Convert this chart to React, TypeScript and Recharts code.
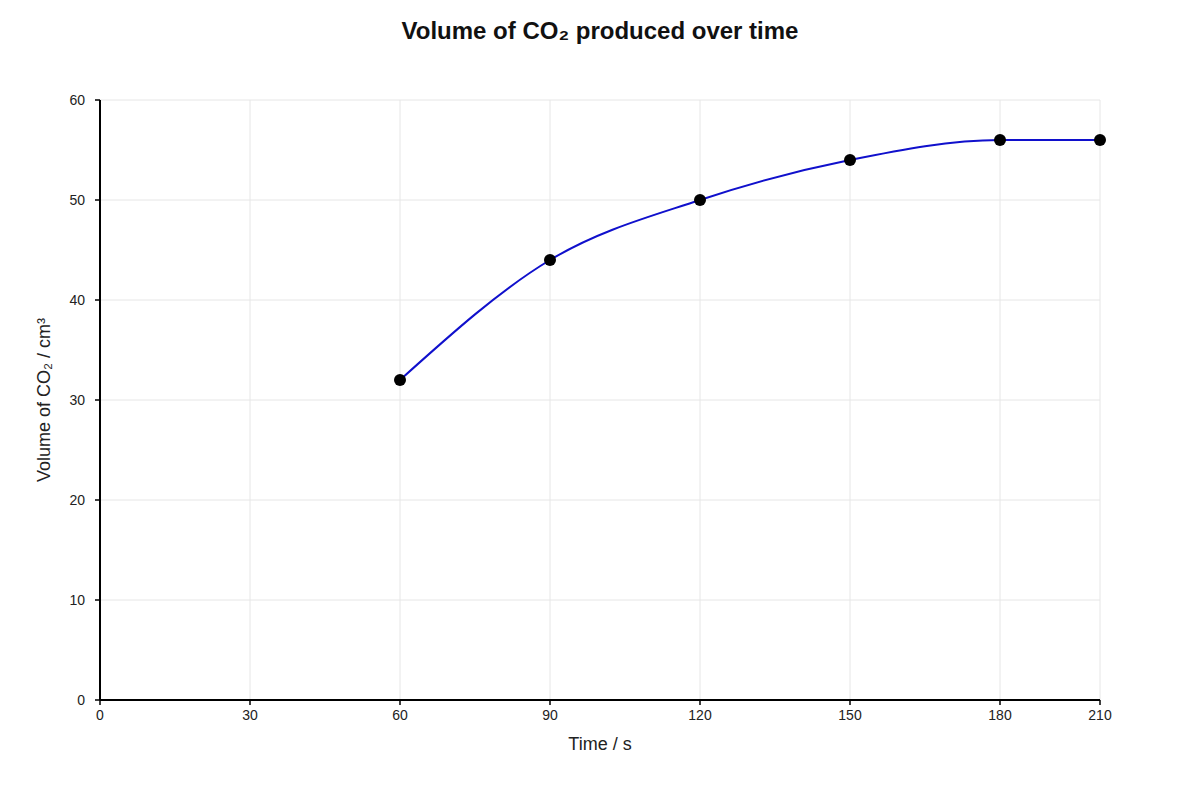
import React from 'react'
import {
  ComposedChart, Line, XAxis, YAxis, CartesianGrid,
} from 'recharts'

const times = [60, 90, 120, 150, 180, 210]
const volumes = [32, 44, 50, 54, 56, 56]
const xTicks = [0, 30, 60, 90, 120, 150, 180, 210]
const yTicks = [0, 10, 20, 30, 40, 50, 60]

const data = times.map((t, i) => ({ t, v: volumes[i] }))

const FONT = '"Liberation Sans", Arial, sans-serif'

// the source axis is evenly spaced up to 180, then squeezes the last step (180 -> 210)
// into two thirds of a regular step; mimic that with a piecewise-linear scale
const tickSlots = [0, 1, 2, 3, 4, 5, 6, 6 + 2 / 3]

function makeTimeScale(dom: number[] = [0, 210], rng: number[] = [0, 1]): any {
  let d = dom
  let r = rng
  const last = tickSlots[tickSlots.length - 1]
  const toSlot = (v: number) => {
    for (let i = 0; i < xTicks.length - 1; i++) {
      if (v <= xTicks[i + 1] || i === xTicks.length - 2) {
        const f = (v - xTicks[i]) / (xTicks[i + 1] - xTicks[i])
        return tickSlots[i] + f * (tickSlots[i + 1] - tickSlots[i])
      }
    }
    return 0
  }
  const scale: any = (v: number) => r[0] + (toSlot(v) / last) * (r[1] - r[0])
  scale.domain = (x?: number[]) => (x ? ((d = x), scale) : d)
  scale.range = (x?: number[]) => (x ? ((r = x), scale) : r)
  scale.copy = () => makeTimeScale(d, r)
  scale.ticks = () => xTicks
  scale.invert = (px: number) => {
    const s = ((px - r[0]) / (r[1] - r[0])) * last
    for (let i = 0; i < tickSlots.length - 1; i++) {
      if (s <= tickSlots[i + 1] || i === tickSlots.length - 2) {
        const f = (s - tickSlots[i]) / (tickSlots[i + 1] - tickSlots[i])
        return xTicks[i] + f * (xTicks[i + 1] - xTicks[i])
      }
    }
    return 0
  }
  return scale
}

function YLabel({ viewBox }: any) {
  const cx = 44
  const cy = viewBox.y + viewBox.height / 2
  return (
    <text
      x={cx}
      y={cy}
      transform={`rotate(-90, ${cx}, ${cy})`}
      textAnchor="middle"
      dominantBaseline="central"
      fontSize={18}
      fill="#222"
      fontFamily={FONT}
    >
      Volume of CO₂ / cm³
    </text>
  )
}

export default function App() {
  return (
    <div style={{ position: 'absolute', left: 0, top: 0, width: 1200, height: 800, background: '#fff', fontFamily: FONT }}>
      <div style={{
        position: 'absolute', top: 17, left: 0, width: 1200, textAlign: 'center',
        fontSize: 24, fontWeight: 'bold', color: '#111',
      }}>
        Volume of CO₂ produced over time
      </div>
      <ComposedChart
        width={1200}
        height={800}
        data={data}
        margin={{ top: 100, right: 100, left: 40, bottom: 40 }}
      >
        <CartesianGrid stroke="#e6e6e6" strokeWidth={1} />
        <XAxis
          dataKey="t"
          type="number"
          scale={makeTimeScale()}
          domain={[0, 210]}
          ticks={xTicks}
          interval={0}
          height={60}
          axisLine={{ stroke: '#000', strokeWidth: 2 }}
          tickLine={{ stroke: '#000', strokeWidth: 1.5 }}
          tickSize={5}
          tickMargin={5}
          tick={{ fontSize: 14, fill: '#222', fontFamily: FONT }}
          label={{ value: 'Time / s', position: 'insideBottom', offset: 10, fontSize: 18, fill: '#222', fontFamily: FONT }}
        />
        <YAxis
          type="number"
          domain={[0, 60]}
          ticks={yTicks}
          interval={0}
          width={60}
          axisLine={{ stroke: '#000', strokeWidth: 2 }}
          tickLine={{ stroke: '#000', strokeWidth: 1.5 }}
          tickSize={5}
          tickMargin={10}
          tick={{ fontSize: 14, fill: '#222', fontFamily: FONT }}
          label={<YLabel />}
        />
        <Line
          dataKey="v"
          stroke="none"
          dot={{ r: 6, fill: '#000', stroke: '#000', strokeWidth: 0 }}
          activeDot={false}
          isAnimationActive={false}
        />
        <Line
          dataKey="v"
          type="monotoneX"
          stroke="#1010cc"
          strokeWidth={2}
          dot={false}
          activeDot={false}
          isAnimationActive={false}
        />
      </ComposedChart>
    </div>
  )
}
